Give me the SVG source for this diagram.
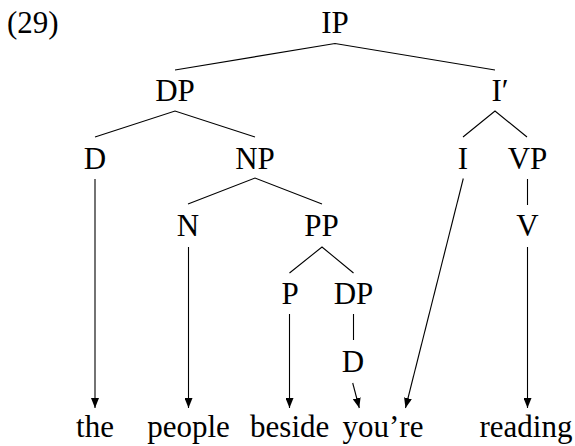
<svg xmlns="http://www.w3.org/2000/svg" width="575" height="446" viewBox="0 0 575 446">
  <style>
    text { font-family: 'Liberation Serif', 'Times New Roman', Times, 'DejaVu Serif', serif; font-size: 31px; fill: #000; text-anchor: middle; }
    .edge { stroke: #000; stroke-width: 1.1; fill: none; }
    .arrow { stroke: #000; stroke-width: 1.1; fill: none; marker-end: url(#head); }
  </style>
  <defs>
    <marker id="head" markerUnits="userSpaceOnUse" markerWidth="10" markerHeight="8" refX="10" refY="4" orient="auto">
      <path d="M0,0 L10,4 L0,8 z" fill="#000"/>
    </marker>
  </defs>

  <g font-family="Liberation Serif, Times New Roman, serif">
  <text x="7" y="33" style="text-anchor:start">(29)</text>

  <!-- tree nodes -->
  <g id="n-IP"><text x="335" y="33">IP</text></g>
  <g id="n-DP"><text x="175" y="101">DP</text></g>
  <g id="n-Ibar"><text x="500" y="101">I′</text></g>
  <g id="n-D"><text x="95" y="168.5">D</text></g>
  <g id="n-NP"><text x="255" y="168.5">NP</text></g>
  <g id="n-I"><text x="463" y="168.5">I</text></g>
  <g id="n-VP"><text x="527.5" y="168.5">VP</text></g>
  <g id="n-N"><text x="188" y="236">N</text></g>
  <g id="n-PP"><text x="321.5" y="236">PP</text></g>
  <g id="n-V"><text x="527.5" y="236">V</text></g>
  <g id="n-P"><text x="290" y="304">P</text></g>
  <g id="n-DP2"><text x="353.5" y="304">DP</text></g>
  <g id="n-D2"><text x="353" y="371.5">D</text></g>

  <!-- terminal words -->
  <g id="w-the"><text x="95" y="436.7">the</text></g>
  <g id="w-people"><text x="188.5" y="436.7">people</text></g>
  <g id="w-beside"><text x="289.7" y="436.7">beside</text></g>
  <g id="w-youre"><text x="383" y="436.7">you’re</text></g>
  <g id="w-reading"><text x="526" y="436.7">reading</text></g>
  </g>

  <!-- branches and arrows -->
  <g id="connectors">
    <path class="edge" d="M175,70 L335,43.5 L495,70"/>
    <path class="edge" d="M95,137 L175,111 L255,137"/>
    <path class="edge" d="M463,137 L495,111 L527,137"/>
    <path class="edge" d="M188,204 L255,178 L322,204"/>
    <path class="edge" d="M289.5,273 L322,247 L353.5,273"/>
    <line class="edge" x1="527.5" y1="179" x2="527.5" y2="205"/>
    <line class="edge" x1="353.5" y1="314" x2="353.5" y2="340"/>

    <line class="arrow" x1="95" y1="179" x2="95" y2="408"/>
    <line class="arrow" x1="188.5" y1="247" x2="188.5" y2="408"/>
    <line class="arrow" x1="289.5" y1="314" x2="289.5" y2="408"/>
    <line class="arrow" x1="352.7" y1="383" x2="359.3" y2="408"/>
    <line class="arrow" x1="463.3" y1="178.5" x2="405.5" y2="408"/>
    <line class="arrow" x1="527.5" y1="247" x2="527.5" y2="408"/>
  </g>
</svg>
